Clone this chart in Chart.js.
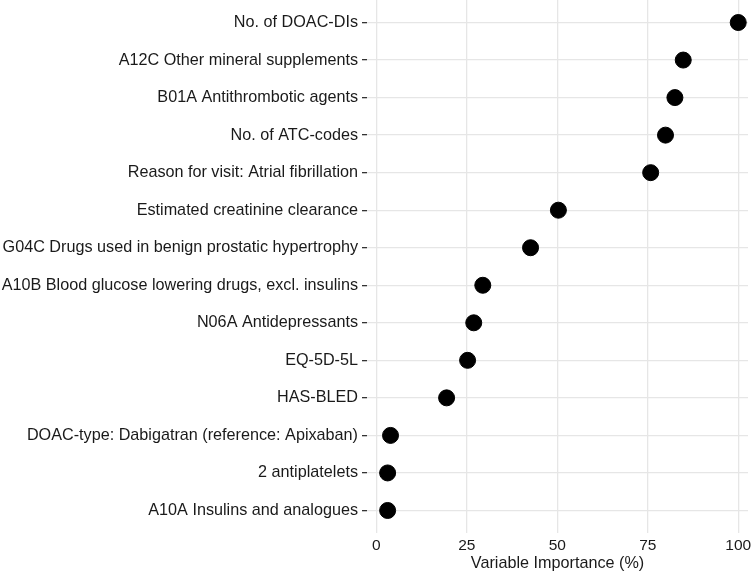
<!DOCTYPE html>
<html>
<head>
<meta charset="utf-8">
<script src="https://cdn.jsdelivr.net/npm/chart.js@4"></script>
<style>
  html, body { margin: 0; padding: 0; background: #fff; }
  #box { width: 751px; height: 573px; }
</style>
</head>
<body>
<div id="box"><canvas id="mychart"></canvas></div>
<script>
// variables, top to bottom
const variables = [
  'No. of DOAC-DIs',
  'A12C Other mineral supplements',
  'B01A Antithrombotic agents',
  'No. of ATC-codes',
  'Reason for visit: Atrial fibrillation',
  'Estimated creatinine clearance',
  'G04C Drugs used in benign prostatic hypertrophy',
  'A10B Blood glucose lowering drugs, excl. insulins',
  'N06A Antidepressants',
  'EQ-5D-5L',
  'HAS-BLED',
  'DOAC-type: Dabigatran (reference: Apixaban)',
  '2 antiplatelets',
  'A10A Insulins and analogues'
];
const importance = [100, 84.8, 82.5, 79.9, 75.8, 50.3, 42.6, 29.4, 26.9, 25.2, 19.4, 3.9, 3.1, 3.1];
const xTicks = [0, 25, 50, 75, 100];

const points = variables.map((v, i) => ({ x: importance[i], y: i }));

const ctx = document.getElementById('mychart').getContext('2d');
new Chart(ctx, {
  type: 'scatter',
  data: {
    datasets: [{
      data: points,
      backgroundColor: '#000',
      borderColor: '#000',
      pointRadius: 8,
      pointHoverRadius: 8,
      clip: false
    }]
  },
  options: {
    responsive: true,
    maintainAspectRatio: false,
    animation: false,
    layout: { autoPadding: false, padding: { top: 0, right: 3, bottom: 0, left: 0 } },
    plugins: { legend: { display: false }, tooltip: { enabled: false } },
    scales: {
      x: {
        type: 'linear',
        min: -2.6,
        max: 102.7,
        afterBuildTicks: axis => { axis.ticks = xTicks.map(v => ({ value: v })); },
        afterFit: axis => { axis.height = 40; axis.paddingLeft = 0; axis.paddingRight = 0; },
        grid: { color: '#e6e6e6', lineWidth: 1.3, drawTicks: false },
        border: { display: false },
        ticks: { color: '#1a1a1a', padding: 3, font: { family: 'Liberation Sans, Arial', size: 15.5 } },
        title: {
          display: true,
          text: 'Variable Importance (%)',
          color: '#1a1a1a',
          padding: { top: 1, bottom: 0 },
          font: { family: 'Liberation Sans, Arial', size: 16.2 }
        }
      },
      y: {
        type: 'linear',
        reverse: true,
        min: -0.6,
        max: 13.6,
        afterBuildTicks: axis => { axis.ticks = variables.map((v, i) => ({ value: i })); },
        afterFit: axis => { axis.width = 367; axis.paddingTop = 0; axis.paddingBottom = 0; },
        grid: { color: '#e6e6e6', lineWidth: 1.3, tickColor: '#333', tickLength: 5 },
        border: { display: false },
        ticks: {
          color: '#1a1a1a',
          padding: 4,
          font: { family: 'Liberation Sans, Arial', size: 16.2 },
          callback: v => variables[v]
        }
      }
    }
  }
});
</script>
</body>
</html>
